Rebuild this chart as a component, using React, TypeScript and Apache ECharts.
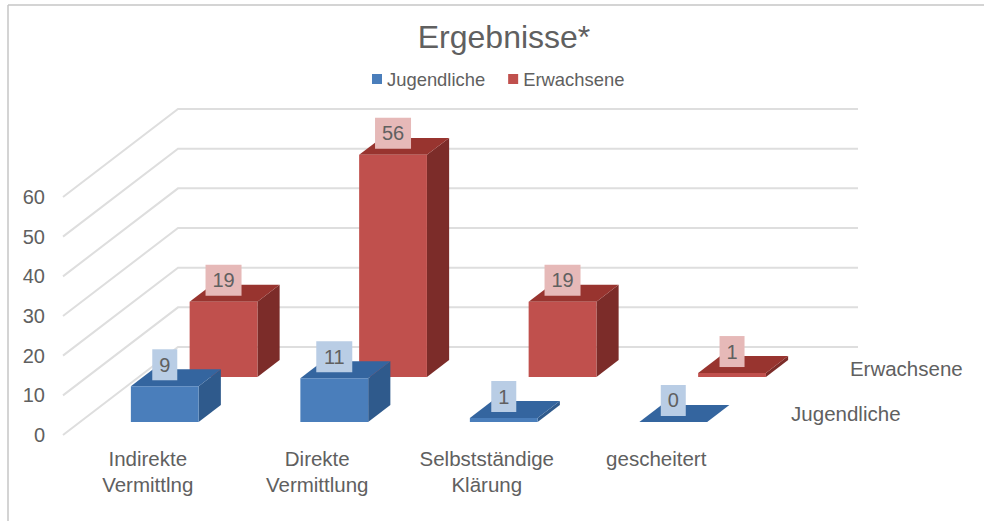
import React, { useEffect, useRef } from "react";
import * as echarts from "echarts";

const title = "Ergebnisse*";
const categories = ["Indirekte\nVermittlng", "Direkte\nVermittlung", "Selbstständige\nKlärung", "gescheitert"];
const jugendliche = [9, 11, 1, 0];
const erwachsene = [19, 56, 19, 1];
const valueTicks = [0, 10, 20, 30, 40, 50, 60];
const FONT = '"Liberation Sans", Arial, sans-serif';
const TEXT = "#606060";

// Oblique projection of the depth axis: full depth of the floor in px.
const DEPTH_X = 115;
const DEPTH_Y = -88;
const BAR_DEPTH = 0.193;
const BAR_WIDTH = 0.4;

const depthPoint = (p: number[], f: number) => [p[0] + DEPTH_X * f, p[1] + DEPTH_Y * f];

function barSeries(
  name: string,
  values: number[],
  depth: number,
  colors: { front: string; top: string; side: string; label: string },
  z: number
) {
  return {
    type: "custom",
    name,
    z,
    clip: false,
    itemStyle: { color: colors.front },
    encode: { x: 0, y: 1 },
    data: values.map((v, i) => [i, v]),
    renderItem: (_: any, api: any) => {
      const cat = api.value(0);
      const val = api.value(1);
      const w = api.size([1, 0])[0] * BAR_WIDTH;
      const base = api.coord([cat, 0]);
      const head = api.coord([cat, val]);
      const bl = depthPoint([base[0] - w / 2, base[1]], depth);
      const br = [bl[0] + w, bl[1]];
      const tl = depthPoint([head[0] - w / 2, head[1]], depth);
      const tr = [tl[0] + w, tl[1]];
      const tlb = depthPoint(tl, BAR_DEPTH);
      const trb = depthPoint(tr, BAR_DEPTH);
      const brb = depthPoint(br, BAR_DEPTH);
      const text = String(val);
      const lw = 14 + 11 * text.length;
      const lh = 31;
      const cx = tl[0] + w / 2;
      const ly = tl[1] - 6 - lh;
      return {
        type: "group",
        children: [
          { type: "polygon", shape: { points: [tr, trb, brb, br] }, style: { fill: colors.side } },
          { type: "polygon", shape: { points: [tl, tlb, trb, tr] }, style: { fill: colors.top } },
          { type: "rect", shape: { x: tl[0], y: tl[1], width: w, height: bl[1] - tl[1] }, style: { fill: colors.front } },
          { type: "rect", shape: { x: cx - lw / 2, y: ly, width: lw, height: lh }, style: { fill: colors.label } },
          {
            type: "text",
            x: cx,
            y: ly + lh / 2,
            style: { text, fill: TEXT, font: `20px ${FONT}`, align: "center", verticalAlign: "middle" },
          },
        ],
      };
    },
  };
}

const blue = { front: "#4a7ebb", top: "#34659f", side: "#2f5a8c", label: "#b9cde5" };
const red = { front: "#c0504d", top: "#98342f", side: "#7c2c29", label: "#e6b9b8" };
const JUG_DEPTH = 0.148;
const ERW_DEPTH = 0.659;

const depthLabels = ["Jugendliche", "Erwachsene"];
const depthOffsets = [JUG_DEPTH, ERW_DEPTH];

export default function App() {
  const ref = useRef<HTMLDivElement>(null);
  useEffect(() => {
    const chart = echarts.init(ref.current!, null, { renderer: "svg" });
    chart.setOption({
      animation: false,
      backgroundColor: "#ffffff",
      title: {
        text: title,
        left: 499,
        top: 16,
        textAlign: "center",
        textStyle: { fontFamily: FONT, fontSize: 32, fontWeight: "normal", color: TEXT },
      },
      legend: {
        data: ["Jugendliche", "Erwachsene"],
        left: 367,
        top: 65,
        icon: "rect",
        itemWidth: 10,
        itemHeight: 10,
        itemGap: 23,
        textStyle: { fontFamily: FONT, fontSize: 18.4, color: TEXT },
      },
      grid: { left: 63, top: 197, width: 678, height: 238 },
      xAxis: {
        type: "category",
        data: categories,
        axisLine: { show: false },
        axisTick: { show: false },
        axisLabel: { interval: 0, margin: 10, fontFamily: FONT, fontSize: 20.5, lineHeight: 26, color: TEXT },
      },
      yAxis: {
        type: "value",
        min: 0,
        max: 60,
        interval: 10,
        splitLine: { show: false },
        axisLine: { show: false },
        axisTick: { show: false },
        axisLabel: { margin: 18, fontFamily: FONT, fontSize: 20, color: TEXT },
      },
      graphic: [
        { type: "line", shape: { x1: 8, y1: 5, x2: 8, y2: 521 }, style: { stroke: "#c6c6c6", lineWidth: 1.5 } },
        { type: "line", shape: { x1: 8, y1: 5, x2: 984, y2: 5 }, style: { stroke: "#c6c6c6", lineWidth: 1.5 } },
      ],
      series: [
        {
          type: "custom",
          name: "wall",
          silent: true,
          z: 1,
          clip: false,
          encode: { x: 0, y: 1 },
          data: valueTicks.map((t) => [0, t]),
          renderItem: (params: any, api: any) => {
            const sys = params.coordSys;
            const y = api.coord([0, api.value(1)])[1];
            const a = [sys.x, y];
            const b = depthPoint(a, 1);
            const c = [b[0] + sys.width + 2, b[1]];
            return {
              type: "polyline",
              shape: { points: [a, b, c] },
              style: { stroke: "#dedede", lineWidth: 2, fill: "none" },
            };
          },
        },
        barSeries("Erwachsene", erwachsene, ERW_DEPTH, red, 2),
        barSeries("Jugendliche", jugendliche, JUG_DEPTH, blue, 3),
        {
          type: "custom",
          name: "depth",
          silent: true,
          z: 4,
          clip: false,
          encode: { x: 0, y: 1 },
          data: depthLabels.map((_, i) => [categories.length - 1, 0, i]),
          renderItem: (params: any, api: any) => {
            const sys = params.coordSys;
            const i = api.value(2);
            const f = depthOffsets[i] + BAR_DEPTH / 2;
            const p = depthPoint([sys.x + sys.width, sys.y + sys.height], f);
            return {
              type: "text",
              x: p[0] + 22,
              y: p[1],
              style: {
                text: depthLabels[i],
                fill: TEXT,
                font: `20.5px ${FONT}`,
                align: "left",
                verticalAlign: "middle",
              },
            };
          },
        },
      ],
    });
    return () => chart.dispose();
  }, []);
  return <div ref={ref} style={{ position: "absolute", left: 0, top: 0, width: 984, height: 521 }} />;
}
